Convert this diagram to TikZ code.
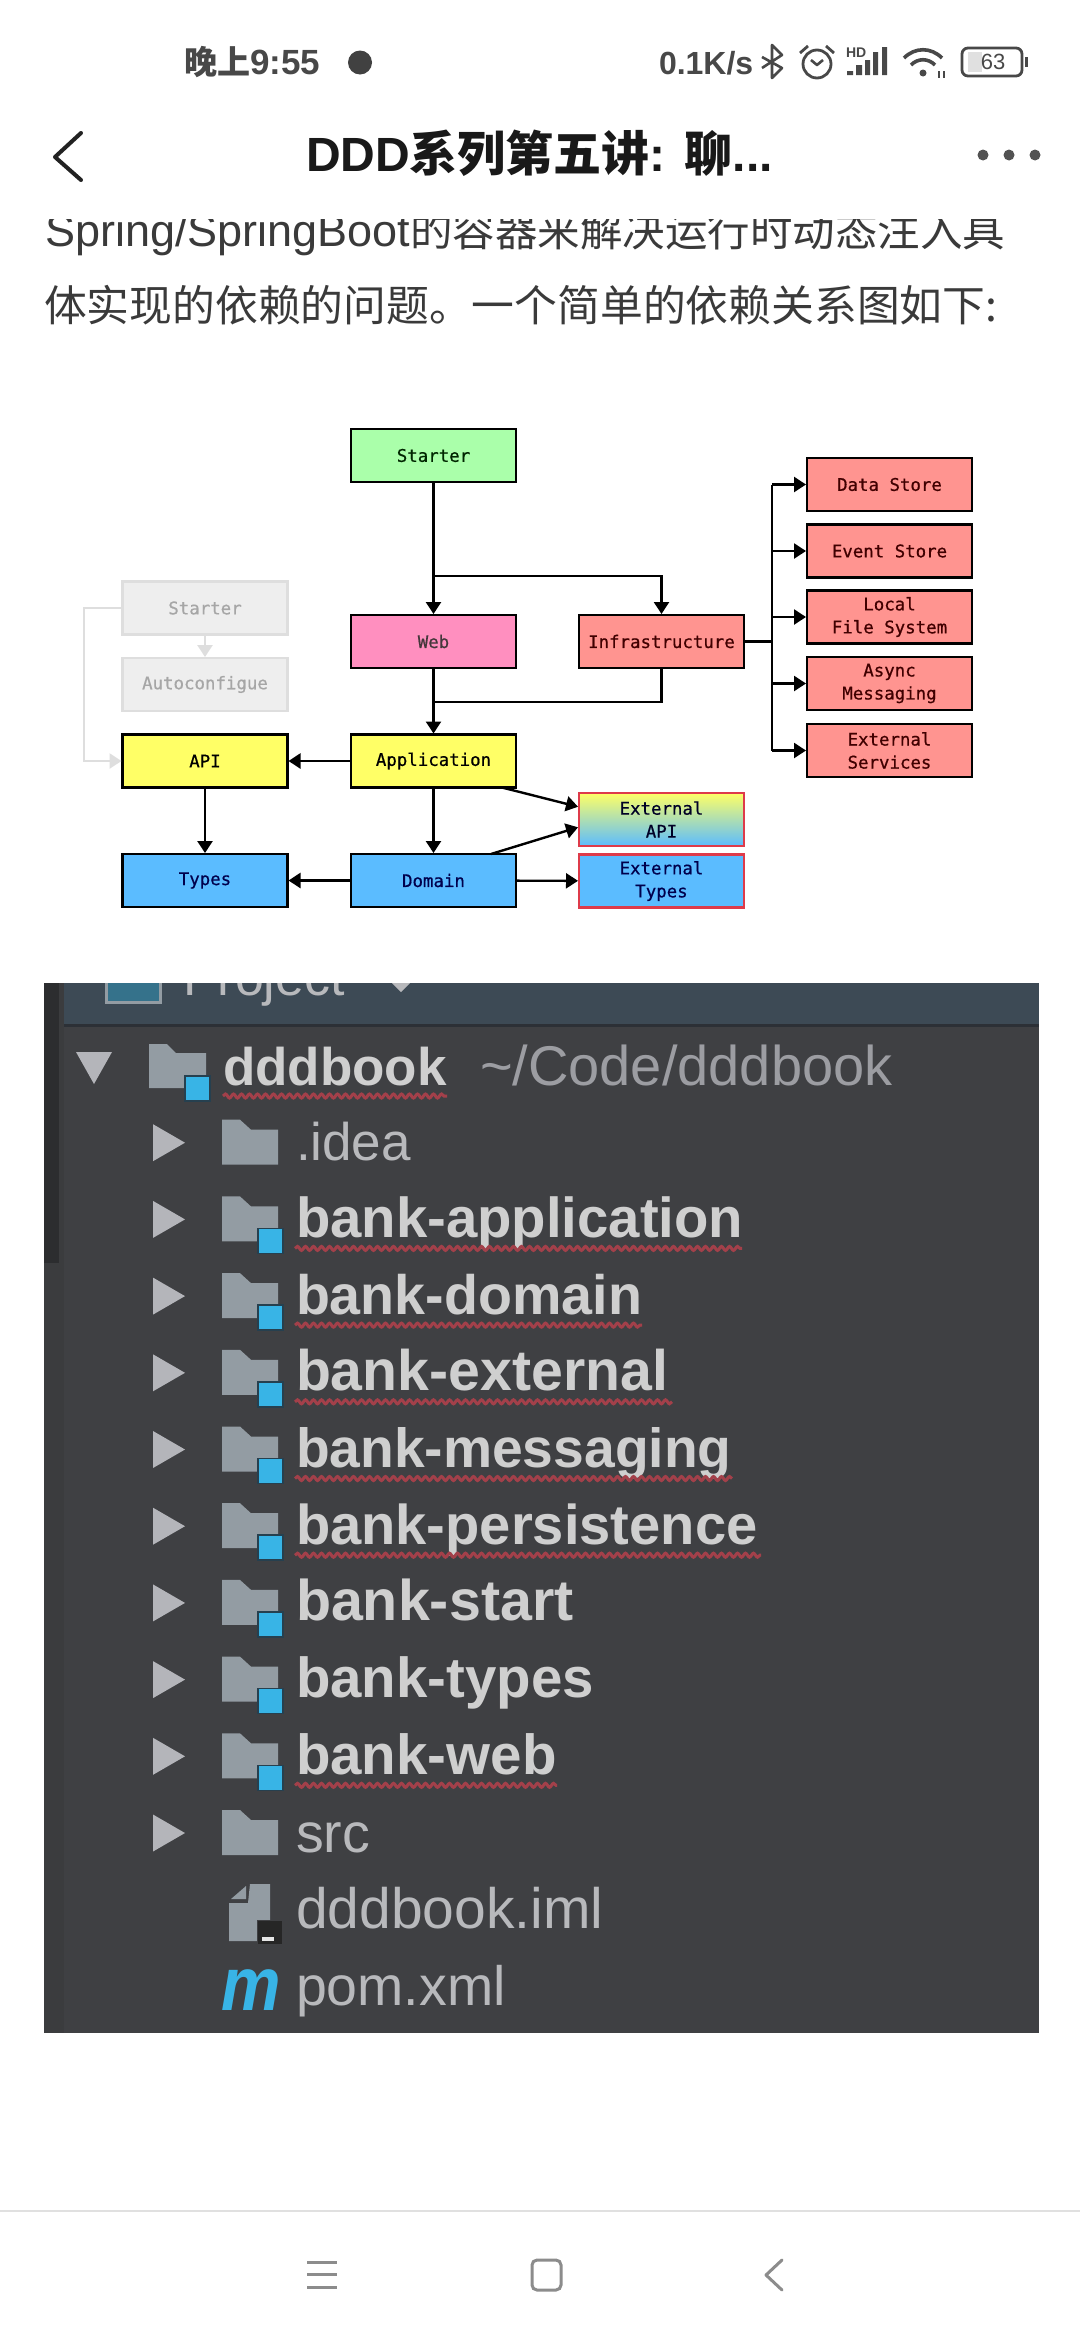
\documentclass[tikz,border=0pt]{standalone}
\usepackage{fontspec}
\usetikzlibrary{arrows.meta,decorations.pathmorphing,calc}
\setmainfont{Liberation Sans}
\newfontfamily\monofam[FakeBold=0.6]{DejaVu Sans Mono}
\newfontfamily\cjkfam{Noto Sans CJK SC}
\newcommand{\fsz}[1]{\fontsize{#1}{#1}\selectfont}
\definecolor{txtdark}{HTML}{222222}
\definecolor{bodytxt}{HTML}{3A3A3A}
\definecolor{statustxt}{HTML}{484848}
\definecolor{navgray}{HTML}{8C8C8C}
\definecolor{boxgreen}{HTML}{AAFFAA}
\definecolor{boxpink}{HTML}{FF8FBF}
\definecolor{boxyellow}{HTML}{FFFF66}
\definecolor{boxblue}{HTML}{5BBCFF}
\definecolor{boxred}{HTML}{FF9490}
\definecolor{boxgray}{HTML}{EEEEEE}
\definecolor{linegray}{HTML}{DEDEDE}
\definecolor{extborder}{HTML}{DE3B4A}
\definecolor{panel}{HTML}{3F4043}
\definecolor{panelhead}{HTML}{3D4A55}
\definecolor{paneldiv}{HTML}{2C3036}
\definecolor{sidedark}{HTML}{2C2D2F}
\definecolor{sidelite}{HTML}{3B3C3E}
\definecolor{foldergray}{HTML}{939CA3}
\definecolor{tri}{HTML}{B4B5BA}
\definecolor{modblue}{HTML}{38B4E6}
\definecolor{modedge}{HTML}{26404F}
\definecolor{boldtxt}{HTML}{CFCFCF}
\definecolor{regtxt}{HTML}{B8B9BC}
\definecolor{pathtxt}{HTML}{9C9DA2}
\definecolor{wavy}{HTML}{A3404A}
\tikzset{
  dbox/.style={draw=black,line width=2.4pt,minimum width=165pt,minimum height=53pt,inner sep=0pt,outer sep=0pt,align=center,font=\monofam\fontsize{17.4}{23}\selectfont},
  greenbox/.style={dbox,fill=boxgreen,text=black!85!green},
  pinkbox/.style={dbox,fill=boxpink,text=black!85!magenta},
  yellowbox/.style={dbox,fill=boxyellow,text=black},
  bluebox/.style={dbox,fill=boxblue,text=blue!30!black},
  redbox/.style={dbox,fill=boxred,text=red!25!black},
  graybox/.style={dbox,draw=linegray,fill=boxgray,text=black!35},
  extbox/.style={dbox,draw=extborder},
  conn/.style={draw=black,line width=2.4pt},
  arr/.style={conn,-{Triangle[length=12pt,width=15pt]},shorten >=1pt},
  grayarr/.style={draw=linegray,line width=2.4pt,-{Triangle[length=12pt,width=15pt]},shorten >=1pt},
  lbl/.style={inner sep=0pt,outer sep=0pt,anchor=base west},
  modtext/.style={lbl,text=boldtxt,font=\bfseries},
  regtext/.style={lbl,text=regtxt,font=\fsz{55.5}},
  wave/.style={draw=wavy,line width=3pt,decorate,decoration={snake,segment length=8pt,amplitude=2pt}},
  navline/.style={draw=navgray,line width=3pt},
  treetri/.style={fill=tri,draw=none},
  folderfill/.style={fill=foldergray,draw=none},
}
\begin{document}
\begin{tikzpicture}[x=1pt,y=-1pt]
\useasboundingbox (0,0) rectangle (1080,2340);
\fill[white] (0,0) rectangle (1080,2340);

% article text (first line runs under the title bar)
\node[lbl,text=bodytxt] (line1) at (45,246) {\fsz{45}Spring/SpringBoot{\cjkfam\fsz{42.5}的容器来解决运行时动态注入具}};
\fill[white] (0,0) rectangle (1080,219);
\node[lbl,text=bodytxt] (line2) at (44,321) {\cjkfam\fsz{42.8}体实现的依赖的问题。一个简单的依赖关系图如下:};

% status bar
\node[lbl,text=statustxt] (clock) at (184,74) {{\cjkfam\bfseries\fsz{33}晚上}\bfseries\fsz{35}9:55};
\fill[statustxt!90!black] (360,62.5) circle[radius=12];
\node[lbl,text=statustxt] (speed) at (659,74) {\bfseries\fsz{32}0.1K/s};
\draw[statustxt,line width=2.6pt,line join=round] (762,57)--(782,68)--(772,78)--(772,45)--(782,55)--(762,68);
\draw[statustxt,line width=2.8pt] (817,64) circle[radius=14];
\draw[statustxt,line width=2.6pt,line join=round] (811,60)--(817,65)--(823,60);
\draw[statustxt,line width=2.8pt] (800,53)--(808,46) (834,53)--(826,46);
\node[lbl,text=statustxt] (hdmark) at (846,57) {\bfseries\fsz{14}HD};
\fill[statustxt] (847,71) rectangle (853,75) (856,65) rectangle (862,75) (865,60) rectangle (870,75) (873,52) rectangle (878,75) (882,47) rectangle (887,75);
\draw[statustxt,line width=3.6pt] (904,58) .. controls (915,47) and (931,47) .. (942,58);
\draw[statustxt,line width=3.6pt] (911,65) .. controls (918,58) and (928,58) .. (935,65);
\fill[statustxt] (923,73) circle[radius=3.5];
\draw[statustxt,line width=1.8pt] (939,71)--(939,78) (944,71)--(944,78);
\fill[black!12] (968,52) rectangle (982,72);
\draw[statustxt,line width=2.8pt,rounded corners=6pt] (962,48) rectangle (1022,76);
\node[text=statustxt,inner sep=0pt] (batt) at (993,62) {\fsz{22}63};
\fill[statustxt] (1025,57) rectangle (1028,67);

% title bar
\draw[txtdark,line width=4pt,line cap=round,line join=round] (81,133)--(55,157)--(81,180);
\node[lbl,text=black!90] (title) at (306,171) {\bfseries\fsz{48}DDD{\cjkfam\bfseries 系列第五讲}:\kern 19pt{\cjkfam\bfseries 聊}...};
\fill[black!68] (983,155) circle[radius=5.5] (1009,155) circle[radius=5.5] (1035,155) circle[radius=5.5];

% diagram nodes
\node[greenbox] (starter) at (433.5,455.5) {Starter};
\node[pinkbox] (web) at (433.5,641.5) {Web};
\node[yellowbox] (app) at (433.5,761) {Application};
\node[bluebox] (domain) at (433.5,880.5) {Domain};
\node[yellowbox] (api) at (205,761) {API};
\node[bluebox] (types) at (205,880.5) {Types};
\node[graybox] (gstarter) at (205,608) {Starter};
\node[graybox] (autoconf) at (205,684.5) {Autoconfigue};
\node[redbox] (infra) at (661.5,641.5) {Infrastructure};
\node[redbox] (datastore) at (889.5,484.5) {Data Store};
\node[redbox] (eventstore) at (889.5,551) {Event Store};
\node[redbox] (localfs) at (889.5,617) {Local\\File System};
\node[redbox] (async) at (889.5,683.5) {Async\\Messaging};
\node[redbox] (extserv) at (889.5,750.5) {External\\Services};
\node[extbox,top color=boxyellow,bottom color=boxblue,middle color=boxyellow!50!boxblue,text=black!85!blue] (extapi) at (661.5,819.5) {External\\API};
\node[extbox,fill=boxblue,text=blue!30!black] (exttypes) at (661.5,881) {External\\Types};

% diagram connectors
\coordinate (splitinfra) at ($(starter.south)+(0,94)$);
\coordinate (joinapp) at ($(web.south)+(0,34)$);
\coordinate (trunk) at (772,641.5);
\draw[arr] (starter) -- (web);
\draw[arr] (web) -- (app);
\draw[arr] (splitinfra) -| (infra.north);
\draw[conn] (infra.south) |- (joinapp);
\draw[conn] (infra.east) -- (trunk);
\draw[conn] (trunk |- datastore.west) -- (trunk |- extserv.west);
\foreach \t in {datastore,eventstore,localfs,async,extserv}
  \draw[arr] (trunk |- \t.west) -- (\t.west);
\draw[arr] (app) -- (api);
\draw[arr] (domain) -- (types);
\draw[arr] (api) -- (types);
\draw[arr] (app) -- (domain);
\draw[arr] (domain) -- (exttypes);
\draw[arr] ([xshift=-14pt]app.south east) -- ([yshift=12.5pt]extapi.west);
\draw[arr] ([xshift=-25pt]domain.north east) -- ([yshift=-7.5pt]extapi.west);
\draw[grayarr] (gstarter) -- (autoconf);
\coordinate (grayleft) at (84,608);
\draw[grayarr] (gstarter.west) -- (grayleft) |- (api.west);

% project panel
\fill[panel] (44,983) rectangle (1039,2033);
\fill[sidedark] (44,983) rectangle (59,1263);
\fill[sidelite] (59,983) rectangle (64,2033);
\fill[sidelite] (44,1263) rectangle (59,2033);
\begin{scope}
\clip (44,983) rectangle (1039,1026);
\fill[panelhead] (64,983) rectangle (1039,1025);
\fill[sidedark] (44,983) rectangle (59,1026);
\fill[modblue!55!black!90!white,draw=foldergray,line width=3pt] (106,970) rectangle (160,1002);
\node[lbl,text=regtxt] (projlabel) at (183,995) {\fsz{52}Project};
\fill[regtxt] (392,983)--(410,983)--(401,992)--cycle;
\end{scope}
\draw[paneldiv,line width=3pt] (64,1025.5)--(1039,1025.5);

% root row
\fill[treetri] (76,1052)--(112,1052)--(94,1084)--cycle;
\fill[folderfill] (149,1044)--(167,1044)--(176,1053)--(206,1053)--(206,1076)--(184,1076)--(184,1088)--(149,1088)--cycle;
\fill[modblue,draw=modedge,line width=1.5pt] (185,1076) rectangle (210,1101);
\node[lbl,text=boldtxt,font=\bfseries\fsz{53}] (rootname) at (223,1085) {dddbook};
\node[lbl,text=pathtxt,font=\fsz{56}] (rootpath) at (480,1085) {\textasciitilde/Code/dddbook};
\draw[wave] (223,1096)--(447,1096);

% folder rows
\foreach \i in {1,...,10} {
  \fill[treetri] (153,{1066+76.7*\i-18.5})--(185,{1066+76.7*\i})--(153,{1066+76.7*\i+18.5})--cycle;
}
\foreach \i in {1,10} {
  \fill[folderfill] (222,{1066+76.7*\i-23})--(240,{1066+76.7*\i-23})--(251,{1066+76.7*\i-13})--(278,{1066+76.7*\i-13})--(278,{1066+76.7*\i+22})--(222,{1066+76.7*\i+22})--cycle;
}
\foreach \i in {2,...,9} {
  \fill[folderfill] (222,{1066+76.7*\i-23})--(240,{1066+76.7*\i-23})--(251,{1066+76.7*\i-13})--(278,{1066+76.7*\i-13})--(278,{1066+76.7*\i+9})--(257,{1066+76.7*\i+9})--(257,{1066+76.7*\i+22})--(222,{1066+76.7*\i+22})--cycle;
  \fill[modblue,draw=modedge,line width=1.5pt] (258,{1066+76.7*\i+9}) rectangle (283,{1066+76.7*\i+34});
}
\node[regtext,font=\fsz{53}] (idea) at (296,1160) {.idea};
\foreach \i/\t/\s in {2/bank-application/56.3,3/bank-domain/55.6,4/bank-external/57.2,5/bank-messaging/55.2,6/bank-persistence/56.1,7/bank-start/57.4,8/bank-types/56.4,9/bank-web/56.5} {
  \node[modtext] (mod\i) at (296,{1066+76.7*\i+18}) {\fsz{\s}\t};
}
\foreach \i/\e in {2/742,3/642,4/672,5/732,6/761,9/557} {
  \draw[wave] (295,{1066+76.7*\i+29})--(\e,{1066+76.7*\i+29});
}
\node[regtext] (srcdir) at (296,1852) {src};

% iml file
\fill[folderfill] (231,1899)--(246,1899)--(246,1886)--cycle;
\fill[folderfill] (229,1903)--(248,1903)--(250,1884)--(270,1884)--(270,1941)--(229,1941)--cycle;
\fill[black!85,draw=panel,line width=1pt] (257,1920) rectangle (282,1944);
\fill[white!90!black] (262,1937) rectangle (274,1941);
\node[regtext,font=\fsz{57}] (imlfile) at (296,1928) {dddbook.iml};

% pom file
\node[lbl,text=modblue,font=\bfseries\itshape\fsz{76},xscale=.88] (pomicon) at (221,2010) {m};
\node[regtext] (pomfile) at (296,2005) {pom.xml};

% bottom navigation
\draw[black!12,line width=2pt] (0,2211)--(1080,2211);
\draw[navline] (307,2262)--(337,2262) (307,2274.5)--(337,2274.5) (307,2287)--(337,2287);
\draw[navgray,line width=3pt,rounded corners=5pt] (532,2260) rectangle (561,2290);
\draw[navline,line cap=round,line join=round] (782,2260)--(766,2275)--(782,2290);
\end{tikzpicture}
\end{document}
